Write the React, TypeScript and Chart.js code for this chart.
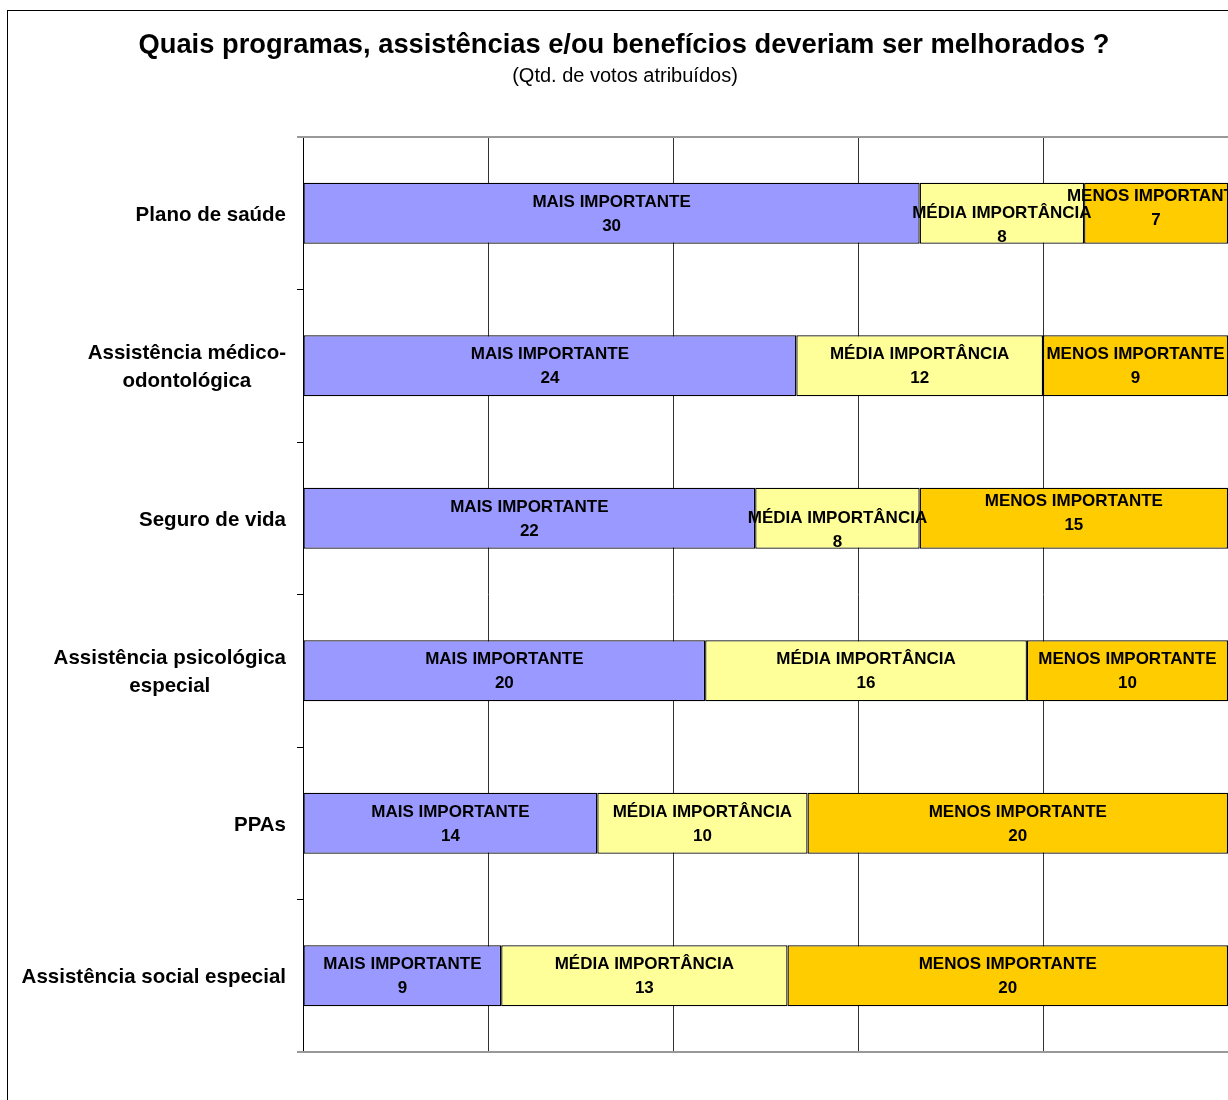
import React, { useEffect, useRef } from "react";
import { Chart, registerables } from "chart.js";

Chart.register(...registerables);

const titleText = "Quais programas, assistências e/ou benefícios deveriam ser melhorados ?";
const subtitleText = "(Qtd. de votos atribuídos)";
const categories: (string | string[])[] = [
  "Plano de saúde",
  ["Assistência médico-", "odontológica"],
  "Seguro de vida",
  ["Assistência psicológica", "especial"],
  "PPAs",
  "Assistência social especial",
];
const seriesNames = ["MAIS IMPORTANTE", "MÉDIA IMPORTÂNCIA", "MENOS IMPORTANTE"];
const maisImportante = [30, 24, 22, 20, 14, 9];
const mediaImportancia = [8, 12, 8, 16, 10, 13];
const menosImportante = [7, 9, 15, 10, 20, 20];
const seriesColors = ["#9999FF", "#FFFF99", "#FFCC00"];

const FONT = "'Liberation Sans', Arial, sans-serif";
const W = 1234;
const H = 1100;

const seriesVotes = [maisImportante, mediaImportancia, menosImportante];
const totals = categories.map((_, i) => seriesVotes.reduce((s, arr) => s + arr[i], 0));

const decorPlugin = {
  id: "decor",
  beforeDatasetsDraw(chart: any) {
    const { ctx, chartArea } = chart;
    ctx.save();
    ctx.strokeStyle = "#999999";
    ctx.lineWidth = 2;
    ctx.beginPath();
    ctx.moveTo(chartArea.left - 6, chartArea.top);
    ctx.lineTo(chartArea.right, chartArea.top);
    ctx.moveTo(chartArea.left - 6, chartArea.bottom);
    ctx.lineTo(chartArea.right, chartArea.bottom);
    ctx.stroke();
    ctx.restore();
  },
  afterDraw(chart: any) {
    const { ctx, chartArea } = chart;
    ctx.save();
    // outer chart border
    ctx.strokeStyle = "#000";
    ctx.lineWidth = 1;
    ctx.strokeRect(0.5, 0.5, W - 1, H - 1);

    // titles
    ctx.fillStyle = "#000";
    ctx.textAlign = "center";
    ctx.textBaseline = "middle";
    ctx.font = `bold 27.3px ${FONT}`;
    ctx.fillText(titleText, 617, 35);
    ctx.font = `20px ${FONT}`;
    ctx.fillText(subtitleText, 618, 66);

    // category labels
    const yScale = chart.scales.y;
    ctx.font = `bold 20.5px ${FONT}`;
    const rightEdge = chartArea.left - 17;
    categories.forEach((lab, i) => {
      const lines = Array.isArray(lab) ? lab : [lab];
      const yc = yScale.getPixelForValue(i) + 2;
      const maxW = Math.max(...lines.map((l) => ctx.measureText(l).width));
      const cx = rightEdge - maxW / 2;
      const lh = 28;
      lines.forEach((l, k) => {
        ctx.fillText(l, cx, yc + (k - (lines.length - 1) / 2) * lh);
      });
    });

    // bar labels
    ctx.font = `bold 17px ${FONT}`;
    categories.forEach((_, i) => {
      const offsets = [0, 0, 0];
      const n = seriesNames.length;
      for (let d = 0; d < n; d++) {
        const el = chart.getDatasetMeta(d).data[i];
        const w = Math.abs(el.x - el.base);
        const lw = ctx.measureText(seriesNames[d]).width;
        if (lw > w - 2 && d < n - 1) {
          offsets[d] += 11;
          offsets[d + 1] -= 6;
        }
      }
      for (let d = 0; d < n; d++) {
        const el = chart.getDatasetMeta(d).data[i];
        const cx = (el.x + el.base) / 2;
        const cy = el.y + 1 + offsets[d];
        ctx.fillText(seriesNames[d], cx, cy - 12);
        ctx.fillText(String(seriesVotes[d][i]), cx, cy + 12);
      }
    });
    ctx.restore();
  },
};

export default function App() {
  const ref = useRef<HTMLCanvasElement | null>(null);
  useEffect(() => {
    if (!ref.current) return;
    const chart = new Chart(ref.current, {
      type: "bar",
      data: {
        labels: categories.map((c) => (Array.isArray(c) ? c.join(" ") : c)),
        datasets: seriesNames.map((name, d) => ({
          label: name,
          data: seriesVotes[d].map((v, i) => (v / totals[i]) * 100),
          backgroundColor: seriesColors[d],
          borderColor: "#000",
          borderWidth: 1.3,
          borderSkipped: false,
          barPercentage: 0.4,
          categoryPercentage: 1,
        })),
      },
      options: {
        indexAxis: "y",
        responsive: false,
        animation: false,
        devicePixelRatio: 1,
        layout: { padding: { left: 0, right: 13, top: 127, bottom: 58 } },
        plugins: {
          legend: { display: false },
          title: { display: false },
          tooltip: { enabled: false },
        },
        scales: {
          x: {
            stacked: true,
            min: 0,
            max: 100,
            ticks: { display: false, stepSize: 20 },
            grid: { color: "#333333", lineWidth: 1, drawTicks: false },
            border: { display: false },
            afterFit(scale: any) {
              scale.height = 0;
            },
          },
          y: {
            stacked: true,
            offset: true,
            ticks: { display: false },
            grid: {
              offset: true,
              drawOnChartArea: false,
              drawTicks: true,
              tickLength: 6,
              color: "#000",
            },
            border: { display: true, color: "#000", width: 1 },
            afterFit(scale: any) {
              scale.width = 296;
            },
          },
        },
      },
      plugins: [decorPlugin],
    } as any);
    return () => chart.destroy();
  }, []);
  return (
    <div
      style={{
        position: "absolute",
        left: 7,
        top: 10,
        width: 1221,
        height: 1090,
        overflow: "hidden",
        background: "#fff",
      }}
    >
      <canvas ref={ref} width={W} height={H} style={{ display: "block", width: W, height: H }} />
    </div>
  );
}
